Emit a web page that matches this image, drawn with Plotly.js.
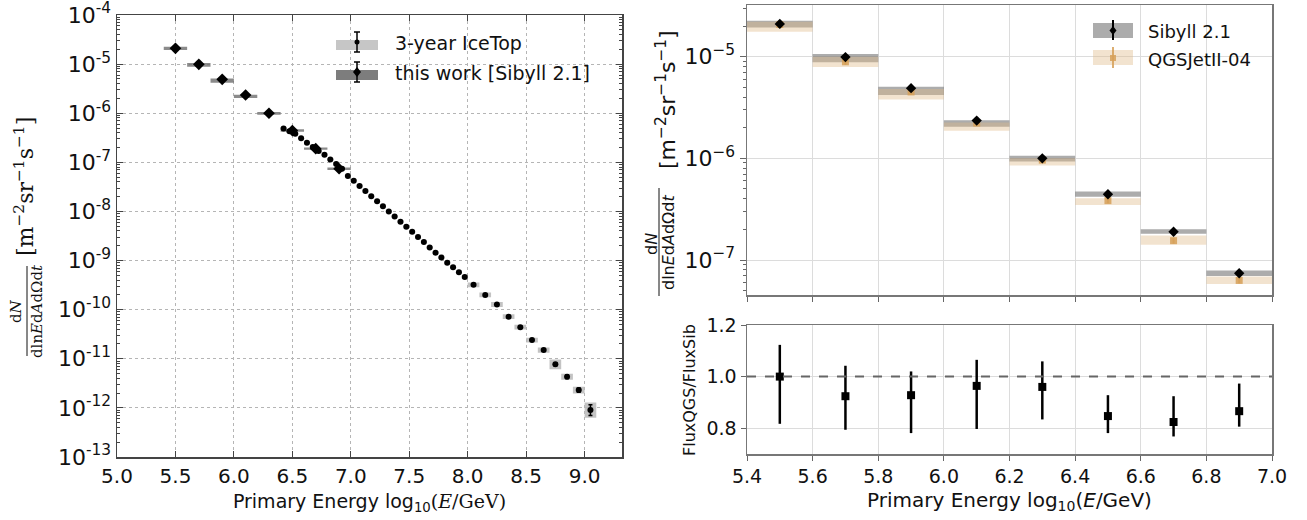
<!DOCTYPE html>
<html>
<head>
<meta charset="utf-8">
<script src="https://cdn.plot.ly/plotly-3.0.1.min.js"></script>
<style>
  html, body { margin: 0; padding: 0; background: #ffffff; }
  #chart { width: 1307px; height: 520px; }
</style>
</head>
<body>
<div id="chart"></div>
<script>
// ---------------------------------------------------------------
// Cosmic-ray flux: 3-year IceTop spectrum vs. this work (Sibyll 2.1),
// and Sibyll 2.1 vs. QGSJetII-04 with their ratio.
// ---------------------------------------------------------------

// Energy bins of this work, log10(E/GeV) bin centres
const workBins = [5.5, 5.7, 5.9, 6.1, 6.3, 6.5, 6.7, 6.9];

// Sibyll 2.1 flux [m^-2 sr^-1 s^-1], statistical error, systematic band
const sibyllFlux     = [2.1e-5, 9.9e-6, 4.9e-6, 2.35e-6, 1.0e-6, 4.43e-7, 1.9e-7, 7.4e-8];
const sibyllErr      = [1.8e-6, 7.0e-7, 3.0e-7, 1.3e-7, 5.0e-8, 2.6e-8, 1.1e-8, 4.5e-9];
const sibyllBandLow  = [1.94e-5, 8.8e-6, 4.2e-6, 2.05e-6, 9.3e-7, 4.2e-7, 1.81e-7, 6.98e-8];
const sibyllBandHigh = [2.26e-5, 1.06e-5, 5.07e-6, 2.37e-6, 1.06e-6, 4.71e-7, 2.01e-7, 7.87e-8];

// QGSJetII-04 flux, statistical error, systematic band
const qgsFlux     = [2.07e-5, 8.9e-6, 4.5e-6, 2.22e-6, 9.6e-7, 3.84e-7, 1.55e-7, 6.3e-8];
const qgsErr      = [1.6e-6, 6.0e-7, 3.0e-7, 1.2e-7, 5.0e-8, 2.2e-8, 1.0e-8, 4.0e-9];
const qgsBandLow  = [1.76e-5, 7.9e-6, 3.8e-6, 1.87e-6, 8.5e-7, 3.48e-7, 1.41e-7, 5.82e-8];
const qgsBandHigh = [2.2e-5, 1.0e-5, 4.8e-6, 2.25e-6, 1.0e-6, 4.05e-7, 1.74e-7, 6.87e-8];

// Flux ratio QGSJetII-04 / Sibyll 2.1 with asymmetric errors
const fluxRatio      = [1.0, 0.924, 0.928, 0.964, 0.96, 0.847, 0.824, 0.866];
const ratioErrPlus   = [0.123, 0.118, 0.092, 0.101, 0.099, 0.081, 0.100, 0.107];
const ratioErrMinus  = [0.183, 0.130, 0.147, 0.167, 0.126, 0.066, 0.056, 0.060];

// 3-year IceTop spectrum: bin centres, flux, systematic and statistical half-widths (dex)
const icetopLogE = [6.425, 6.475, 6.525, 6.575, 6.625, 6.675, 6.725, 6.775, 6.825, 6.875,
                    6.925, 6.975, 7.025, 7.075, 7.125, 7.175, 7.225, 7.275, 7.325, 7.375,
                    7.425, 7.475, 7.525, 7.575, 7.625, 7.675, 7.725, 7.775, 7.825, 7.875,
                    7.925, 7.975, 8.05, 8.15, 8.25, 8.35, 8.45, 8.55, 8.65, 8.75,
                    8.85, 8.95, 9.05];
const icetopFlux = [4.9e-7, 4.3e-7, 3.8e-7, 3.1e-7, 2.5e-7, 2.05e-7, 1.7e-7, 1.42e-7, 1.14e-7, 9.2e-8,
                    7.4e-8, 5.3e-8, 4.2e-8, 3.3e-8, 2.6e-8, 2.05e-8, 1.62e-8, 1.28e-8, 1.0e-8, 7.9e-9,
                    6.2e-9, 4.9e-9, 3.85e-9, 3.0e-9, 2.4e-9, 1.85e-9, 1.45e-9, 1.15e-9, 9.0e-10, 7.3e-10,
                    5.8e-10, 4.6e-10, 3.2e-10, 2.0e-10, 1.27e-10, 7.2e-11, 4.4e-11, 2.4e-11, 1.5e-11, 7.7e-12,
                    4.3e-12, 2.3e-12, 9.0e-13];
const icetopSysDex = [0.03, 0.03, 0.03, 0.03, 0.03, 0.03, 0.03, 0.03, 0.03, 0.03,
                      0.03, 0.03, 0.03, 0.03, 0.03, 0.03, 0.03, 0.03, 0.03, 0.03,
                      0.03, 0.03, 0.03, 0.03, 0.03, 0.03, 0.03, 0.03, 0.035, 0.035,
                      0.035, 0.04, 0.05, 0.05, 0.05, 0.05, 0.05, 0.05, 0.055, 0.10,
                      0.06, 0.07, 0.155];
const icetopStatDex = [0.005, 0.005, 0.005, 0.005, 0.005, 0.005, 0.005, 0.005, 0.005, 0.005,
                       0.005, 0.005, 0.005, 0.005, 0.005, 0.005, 0.005, 0.005, 0.005, 0.005,
                       0.005, 0.005, 0.006, 0.006, 0.007, 0.007, 0.008, 0.008, 0.009, 0.01,
                       0.01, 0.012, 0.012, 0.014, 0.016, 0.018, 0.02, 0.022, 0.025, 0.03,
                       0.035, 0.045, 0.11];

// Axis tick labels
const leftDecades  = [-13, -12, -11, -10, -9, -8, -7, -6, -5, -4];
const rightDecades = [-7, -6, -5];
const energyTicksLeft  = [5.0, 5.5, 6.0, 6.5, 7.0, 7.5, 8.0, 8.5, 9.0];
const energyTicksRight = [5.4, 5.6, 5.8, 6.0, 6.2, 6.4, 6.6, 6.8, 7.0];
const ratioTicks = [0.8, 1.0, 1.2];

// ---------------------------------------------------------------
const W = 1307, H = 520;
const px = v => v / W;          // pixel column -> paper x
const py = v => 1 - v / H;      // pixel row    -> paper y

const WORK_BIN_WIDTH = 0.2;
const icetopWidth = e => (e < 8.0 ? 0.05 : 0.1);

// Closed rectangles (one per bin) for fill:'toself', separated by gaps
function boxes(centers, widths, lo, hi) {
  const x = [], y = [];
  centers.forEach((c, i) => {
    const h = widths[i] / 2;
    x.push(c - h, c + h, c + h, c - h, c - h, null);
    y.push(lo[i], lo[i], hi[i], hi[i], lo[i], null);
  });
  return { x, y };
}

const workWidths = workBins.map(() => WORK_BIN_WIDTH);
const icetopWidths = icetopLogE.map(icetopWidth);
const icetopSysLo = icetopFlux.map((f, i) => f * Math.pow(10, -icetopSysDex[i]));
const icetopSysHi = icetopFlux.map((f, i) => f * Math.pow(10, icetopSysDex[i]));
const icetopErrUp = icetopFlux.map((f, i) => f * (Math.pow(10, icetopStatDex[i]) - 1));
const icetopErrDn = icetopFlux.map((f, i) => f * (1 - Math.pow(10, -icetopStatDex[i])));

const workBox   = boxes(workBins, workWidths, sibyllBandLow, sibyllBandHigh);
const icetopBox = boxes(icetopLogE, icetopWidths, icetopSysLo, icetopSysHi);
const sibBox    = boxes(workBins, workWidths, sibyllBandLow, sibyllBandHigh);
const qgsBox    = boxes(workBins, workWidths, qgsBandLow, qgsBandHigh);

const GRAY_BAND = 'rgba(90,90,90,0.5)';
const TAN_BAND  = 'rgba(222,184,135,0.4)';
const TAN_MARK  = 'rgba(214,160,88,0.85)';

const bandTrace = (b, color, xa, ya) => ({
  type: 'scatter', mode: 'lines', x: b.x, y: b.y, fill: 'toself',
  fillcolor: color, line: { width: 0, color: color }, connectgaps: false,
  xaxis: xa, yaxis: ya, hoverinfo: 'skip', showlegend: false
});

const traces = [
  // Left panel
  bandTrace(workBox, 'rgba(110,110,110,0.8)', 'x', 'y'),
  bandTrace(icetopBox, 'rgba(185,185,185,0.85)', 'x', 'y'),
  {
    type: 'scatter', mode: 'markers', x: icetopLogE, y: icetopFlux,
    marker: { symbol: 'circle', size: 6, color: '#000' },
    error_y: { type: 'data', symmetric: false, array: icetopErrUp, arrayminus: icetopErrDn,
               color: '#000', thickness: 1.5, width: 2 },
    xaxis: 'x', yaxis: 'y', showlegend: false, name: '3-year IceTop'
  },
  {
    type: 'scatter', mode: 'markers', x: workBins, y: sibyllFlux,
    marker: { symbol: 'diamond', size: 9, color: '#000' },
    error_y: { type: 'data', array: sibyllErr, color: '#000', thickness: 1.5, width: 2 },
    xaxis: 'x', yaxis: 'y', showlegend: false, name: 'this work [Sibyll 2.1]'
  },
  // Right top panel
  bandTrace(sibBox, GRAY_BAND, 'x2', 'y2'),
  bandTrace(qgsBox, TAN_BAND, 'x2', 'y2'),
  {
    type: 'scatter', mode: 'markers', x: workBins, y: qgsFlux,
    marker: { symbol: 'square', size: 7, color: TAN_MARK },
    error_y: { type: 'data', array: qgsErr, color: TAN_MARK, thickness: 2, width: 0 },
    xaxis: 'x2', yaxis: 'y2', showlegend: false, name: 'QGSJetII-04'
  },
  {
    type: 'scatter', mode: 'markers', x: workBins, y: sibyllFlux,
    marker: { symbol: 'diamond', size: 8, color: '#000' },
    error_y: { type: 'data', array: sibyllErr, color: '#000', thickness: 2, width: 0 },
    xaxis: 'x2', yaxis: 'y2', showlegend: false, name: 'Sibyll 2.1'
  },
  // Right bottom panel: ratio
  {
    type: 'scatter', mode: 'markers', x: workBins, y: fluxRatio,
    marker: { symbol: 'square', size: 8, color: '#000' },
    error_y: { type: 'data', symmetric: false, array: ratioErrPlus, arrayminus: ratioErrMinus,
               color: '#000', thickness: 2.5, width: 0 },
    xaxis: 'x3', yaxis: 'y3', showlegend: false, name: 'FluxQGS/FluxSib'
  }
];

// Tick values for log axes
const leftMajor = leftDecades.map(d => Math.pow(10, d));
const leftText  = leftDecades.map(d => '10<sup>' + d + '</sup>');
const leftMinor = [];
leftDecades.slice(0, -1).forEach(d => { for (let m = 2; m <= 9; m++) leftMinor.push(m * Math.pow(10, d)); });
const rightMajor = rightDecades.map(d => Math.pow(10, d));
const rightText  = rightDecades.map(d => '10<sup>\u2212' + Math.abs(d) + '</sup>');
const rightMinor = [];
[-8, -7, -6, -5].forEach(d => { for (let m = 2; m <= 9; m++) rightMinor.push(m * Math.pow(10, d)); });

const FONT = 'DejaVu Sans, Verdana, sans-serif';
const SERIF = 'DejaVu Serif, Liberation Serif, serif';

const layout = {
  width: W, height: H,
  margin: { l: 0, r: 0, t: 0, b: 0 },
  paper_bgcolor: '#fff', plot_bgcolor: '#fff',
  font: { family: FONT, size: 19, color: '#111' },
  showlegend: false,
  xaxis: {
    domain: [px(117), px(622)], anchor: 'y', range: [5.0, 9.32],
    tickmode: 'array', tickvals: energyTicksLeft, ticktext: energyTicksLeft.map(v => v.toFixed(1)),
    ticks: 'inside', ticklen: 6, tickcolor: '#444', tickfont: { size: 20 },
    showline: true, mirror: 'ticks', linecolor: '#444', linewidth: 1.5,
    showgrid: true, gridcolor: '#b5b5b5', griddash: 'dot', gridwidth: 1, zeroline: false,
    title: { text: 'Primary Energy log<sub>10</sub><span style="font-family:DejaVu Serif">(<i>E</i>/GeV)</span>',
             font: { size: 19 }, standoff: 8 }
  },
  yaxis: {
    domain: [py(457), py(15)], anchor: 'x', type: 'log', range: [-13.0005, -3.9995],
    tickmode: 'array', tickvals: leftMajor, ticktext: leftText, ticklabeloverflow: 'allow',
    ticks: 'inside', ticklen: 6, tickcolor: '#444', tickfont: { size: 22 },
    minor: { tickmode: 'array', tickvals: leftMinor, ticks: 'inside', ticklen: 3, tickcolor: '#444', showgrid: false },
    showline: true, mirror: 'ticks', linecolor: '#444', linewidth: 1.5,
    showgrid: true, gridcolor: '#b5b5b5', griddash: 'dot', gridwidth: 1, zeroline: false
  },
  xaxis2: {
    domain: [px(747), px(1272)], anchor: 'y2', range: [5.4, 7.0],
    tickmode: 'array', tickvals: energyTicksRight, showticklabels: false,
    ticks: 'outside', ticklen: 5, tickcolor: '#666',
    showline: true, mirror: true, linecolor: '#777', linewidth: 1.5,
    showgrid: true, gridcolor: '#dcdcdc', gridwidth: 1, zeroline: false
  },
  yaxis2: {
    domain: [py(295), py(5)], anchor: 'x2', type: 'log', range: [-7.344, -4.492],
    tickmode: 'array', tickvals: rightMajor, ticktext: rightText,
    ticks: 'outside', ticklen: 6, tickcolor: '#666', tickfont: { size: 22 },
    minor: { tickmode: 'array', tickvals: rightMinor, ticks: 'outside', ticklen: 3, tickcolor: '#666', showgrid: false },
    showline: true, mirror: true, linecolor: '#777', linewidth: 1.5,
    showgrid: true, gridcolor: '#dcdcdc', gridwidth: 1, zeroline: false
  },
  xaxis3: {
    domain: [px(747), px(1272)], anchor: 'y3', range: [5.4, 7.0],
    tickmode: 'array', tickvals: energyTicksRight, ticktext: energyTicksRight.map(v => v.toFixed(1)),
    ticks: 'outside', ticklen: 5, tickcolor: '#666', tickfont: { size: 19 },
    showline: true, mirror: true, linecolor: '#777', linewidth: 1.5,
    showgrid: true, gridcolor: '#dcdcdc', gridwidth: 1, zeroline: false,
    title: { text: 'Primary Energy log<sub>10</sub>(<i>E</i>/GeV)', font: { size: 20 }, standoff: 6 }
  },
  yaxis3: {
    domain: [py(454), py(325)], anchor: 'x3', range: [0.7, 1.2],
    tickmode: 'array', tickvals: ratioTicks, ticktext: ratioTicks.map(v => v.toFixed(1)),
    ticks: 'outside', ticklen: 5, tickcolor: '#666', tickfont: { size: 19 },
    showline: true, mirror: true, linecolor: '#777', linewidth: 1.5,
    showgrid: true, gridcolor: '#dcdcdc', gridwidth: 1, zeroline: false
  },
  shapes: [
    // unity reference in the ratio panel
    { type: 'line', xref: 'x3 domain', yref: 'y3', x0: 0, x1: 1, y0: 1.0, y1: 1.0,
      line: { color: '#666', width: 2, dash: 'dash' }, layer: 'above' },
    // fraction bars of the y-axis titles
    { type: 'line', xref: 'paper', yref: 'paper', x0: px(27), x1: px(27), y0: py(266), y1: py(356),
      line: { color: '#111', width: 1 } },
    { type: 'line', xref: 'paper', yref: 'paper', x0: px(659), x1: px(659), y0: py(188), y1: py(296),
      line: { color: '#111', width: 1 } },
    // left legend
    { type: 'rect', xref: 'paper', yref: 'paper', x0: px(336), x1: px(378), y0: py(50), y1: py(40),
      fillcolor: '#c6c6c6', line: { width: 0 } },
    { type: 'line', xref: 'paper', yref: 'paper', x0: px(357), x1: px(357), y0: py(32), y1: py(52),
      line: { color: '#000', width: 1.5 } },
    { type: 'line', xref: 'paper', yref: 'paper', x0: px(354), x1: px(360), y0: py(32), y1: py(32),
      line: { color: '#000', width: 1.5 } },
    { type: 'line', xref: 'paper', yref: 'paper', x0: px(354), x1: px(360), y0: py(52), y1: py(52),
      line: { color: '#000', width: 1.5 } },
    { type: 'circle', xref: 'paper', yref: 'paper', x0: px(354.5), x1: px(359.5), y0: py(44.5), y1: py(39.5),
      fillcolor: '#000', line: { width: 0 } },
    { type: 'rect', xref: 'paper', yref: 'paper', x0: px(336), x1: px(378), y0: py(80), y1: py(70),
      fillcolor: '#7d7d7d', line: { width: 0 } },
    { type: 'line', xref: 'paper', yref: 'paper', x0: px(357), x1: px(357), y0: py(62), y1: py(82),
      line: { color: '#000', width: 1.5 } },
    { type: 'line', xref: 'paper', yref: 'paper', x0: px(354), x1: px(360), y0: py(62), y1: py(62),
      line: { color: '#000', width: 1.5 } },
    { type: 'line', xref: 'paper', yref: 'paper', x0: px(354), x1: px(360), y0: py(82), y1: py(82),
      line: { color: '#000', width: 1.5 } },
    { type: 'path', xref: 'paper', yref: 'paper', fillcolor: '#000', line: { width: 0 },
      path: `M ${px(357)} ${py(67)} L ${px(361)} ${py(72)} L ${px(357)} ${py(77)} L ${px(353)} ${py(72)} Z` },
    // right legend
    { type: 'rect', xref: 'paper', yref: 'paper', x0: px(1093), x1: px(1133), y0: py(38), y1: py(23),
      fillcolor: GRAY_BAND, line: { width: 0 } },
    { type: 'line', xref: 'paper', yref: 'paper', x0: px(1113), x1: px(1113), y0: py(20), y1: py(40),
      line: { color: '#000', width: 2 } },
    { type: 'path', xref: 'paper', yref: 'paper', fillcolor: '#000', line: { width: 0 },
      path: `M ${px(1113)} ${py(26)} L ${px(1116.5)} ${py(30.5)} L ${px(1113)} ${py(35)} L ${px(1109.5)} ${py(30.5)} Z` },
    { type: 'rect', xref: 'paper', yref: 'paper', x0: px(1093), x1: px(1133), y0: py(65), y1: py(50),
      fillcolor: TAN_BAND, line: { width: 0 } },
    { type: 'line', xref: 'paper', yref: 'paper', x0: px(1113), x1: px(1113), y0: py(47), y1: py(68),
      line: { color: TAN_MARK, width: 2 } },
    { type: 'rect', xref: 'paper', yref: 'paper', x0: px(1110), x1: px(1116), y0: py(61), y1: py(55),
      fillcolor: TAN_MARK, line: { width: 0 } }
  ],
  annotations: [
    // left y-axis title: units and fraction
    { xref: 'paper', yref: 'paper', x: px(24), y: py(187), xanchor: 'center', yanchor: 'middle',
      textangle: -90, showarrow: false, font: { family: SERIF, size: 22, color: '#111' },
      text: '[m<sup>\u22122</sup>sr<sup>\u22121</sup>s<sup>\u22121</sup>]' },
    { xref: 'paper', yref: 'paper', x: px(16), y: py(311), xanchor: 'center', yanchor: 'middle',
      textangle: -90, showarrow: false, font: { family: SERIF, size: 15, color: '#111' },
      text: 'd<i>N</i>' },
    { xref: 'paper', yref: 'paper', x: px(37), y: py(311), xanchor: 'center', yanchor: 'middle',
      textangle: -90, showarrow: false, font: { family: SERIF, size: 15, color: '#111' },
      text: 'dln<i>E</i>d<i>A</i>d\u03A9d<i>t</i>' },
    // right y-axis title: units and fraction
    { xref: 'paper', yref: 'paper', x: px(666), y: py(99), xanchor: 'center', yanchor: 'middle',
      textangle: -90, showarrow: false, font: { family: FONT, size: 22, color: '#111' },
      text: '[m<sup>\u22122</sup>sr<sup>\u22121</sup>s<sup>\u22121</sup>]' },
    { xref: 'paper', yref: 'paper', x: px(651), y: py(244), xanchor: 'center', yanchor: 'middle',
      textangle: -90, showarrow: false, font: { family: FONT, size: 16, color: '#111' },
      text: 'd<i>N</i>' },
    { xref: 'paper', yref: 'paper', x: px(668), y: py(242), xanchor: 'center', yanchor: 'middle',
      textangle: -90, showarrow: false, font: { family: FONT, size: 16, color: '#111' },
      text: 'dln<i>E</i>d<i>A</i>d\u03A9d<i>t</i>' },
    // ratio panel y-axis title
    { xref: 'paper', yref: 'paper', x: px(689), y: py(390), xanchor: 'center', yanchor: 'middle',
      textangle: -90, showarrow: false, font: { family: FONT, size: 16, color: '#111' },
      text: 'FluxQGS/FluxSib' },
    // legend labels
    { xref: 'paper', yref: 'paper', x: px(393), y: py(43), xanchor: 'left', yanchor: 'middle',
      showarrow: false, font: { family: FONT, size: 19, color: '#111' }, text: '3-year IceTop' },
    { xref: 'paper', yref: 'paper', x: px(393), y: py(73), xanchor: 'left', yanchor: 'middle',
      showarrow: false, font: { family: FONT, size: 19, color: '#111' }, text: 'this work [Sibyll 2.1]' },
    { xref: 'paper', yref: 'paper', x: px(1146), y: py(31), xanchor: 'left', yanchor: 'middle',
      showarrow: false, font: { family: FONT, size: 18, color: '#111' }, text: 'Sibyll 2.1' },
    { xref: 'paper', yref: 'paper', x: px(1146), y: py(59), xanchor: 'left', yanchor: 'middle',
      showarrow: false, font: { family: FONT, size: 18, color: '#111' }, text: 'QGSJetII-04' }
  ]
};

Plotly.newPlot('chart', traces, layout, { staticPlot: true, displayModeBar: false });
</script>
</body>
</html>
